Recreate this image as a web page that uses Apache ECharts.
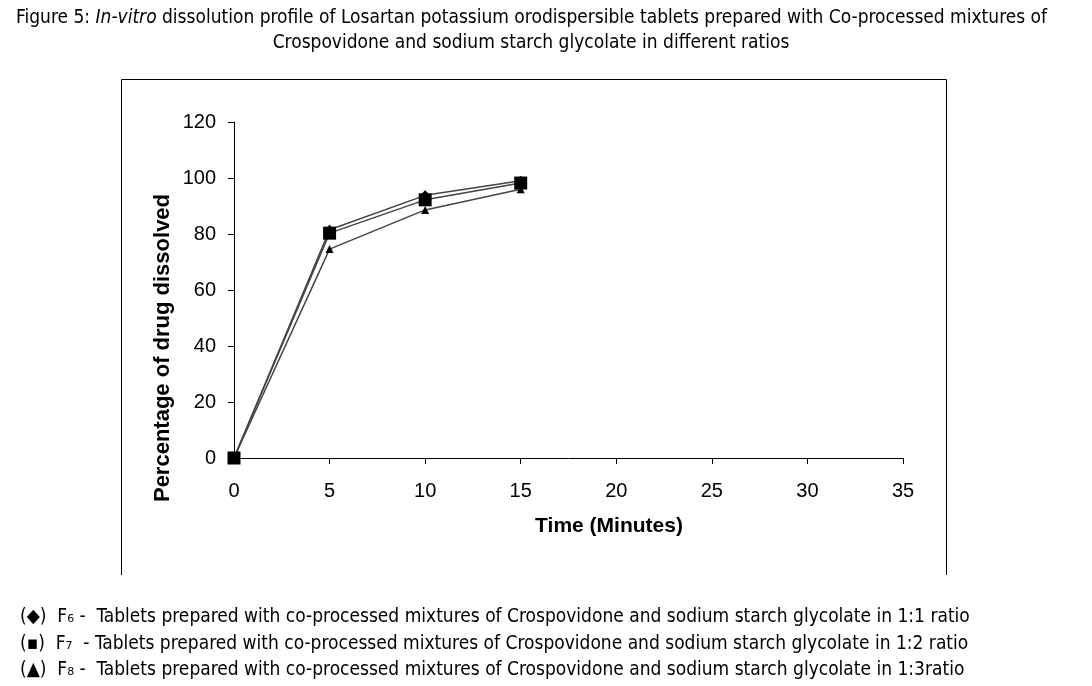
<!DOCTYPE html>
<html><head><meta charset="utf-8">
<script src="https://cdn.jsdelivr.net/npm/echarts@6/dist/echarts.min.js"></script>
<style>html,body{margin:0;padding:0;background:#fff}#c{width:1092px;height:686px}</style>
</head><body><div id="c"></div>
<script>
const times = [0, 5, 10, 15];
const f6 = [0, 81.5, 93.8, 99.0];
const f7 = [0, 80.3, 92.2, 98.2];
const f8 = [0, 74.6, 88.6, 96.0];
const xTicks = [0, 5, 10, 15, 20, 25, 30, 35];
const yTicks = [0, 20, 40, 60, 80, 100, 120];
const footnotes = [
  ['◆', '₆', ' -  Tablets prepared with co-processed mixtures of Crospovidone and sodium starch glycolate in 1:1 ratio'],
  ['▪', '₇', '  - Tablets prepared with co-processed mixtures of Crospovidone and sodium starch glycolate in 1:2 ratio'],
  ['▲', '₈', ' -  Tablets prepared with co-processed mixtures of Crospovidone and sodium starch glycolate in 1:3ratio']
];

const pair = a => a.map((v, i) => [times[i], v]);
const chart = echarts.init(document.getElementById('c'));
const txtFont = '"DejaVu Sans Condensed", "Noto Sans", sans-serif';
const axisFont = '"Liberation Sans", Arial, sans-serif';

const graphics = [
  { type: 'polyline', shape: { points: [[121.5, 575], [121.5, 79.5], [946.5, 79.5], [946.5, 575]] },
    style: { stroke: '#000', lineWidth: 1, fill: null } },
  { type: 'text', x: 16, y: 18, style: {
    text: '{n|Figure 5: }{i|In-vitro}{n| dissolution profile of Losartan potassium orodispersible tablets prepared with Co-processed mixtures of}',
    rich: { n: { font: '19px ' + txtFont, fill: '#000' }, i: { font: 'italic 19px ' + txtFont, fill: '#000' } },
    textVerticalAlign: 'middle' } },
  { type: 'text', x: 531, y: 43, style: { text: 'Crospovidone and sodium starch glycolate in different ratios', font: '19px ' + txtFont, fill: '#000', textAlign: 'center', textVerticalAlign: 'middle' } },
  { type: 'text', x: 609, y: 526, style: { text: 'Time (Minutes)', font: 'bold 21px ' + axisFont, fill: '#000', textAlign: 'center', textVerticalAlign: 'middle' } },
  { type: 'text', x: 163, y: 348, rotation: Math.PI / 2, style: { text: 'Percentage of drug dissolved', font: 'bold 22px ' + axisFont, fill: '#000', textAlign: 'center', textVerticalAlign: 'middle' } }
];

const ys = [617, 644, 670];
footnotes.forEach((f, i) => {
  graphics.push({ type: 'text', x: 20, y: ys[i], style: {
    text: '(' + f[0] + ')  F' + f[1] + f[2],
    font: '19px ' + txtFont, fill: '#000',
    textVerticalAlign: 'middle' } });
});

const lineCol = '#444';
chart.setOption({
  animation: false,
  backgroundColor: '#fff',
  grid: { left: 234, right: 189, top: 122, bottom: 228 },
  xAxis: {
    type: 'value', min: 0, max: 35, interval: 5,
    axisLine: { lineStyle: { color: '#000', width: 1 } },
    axisTick: { show: true, length: 6, lineStyle: { color: '#000' } },
    axisLabel: { color: '#000', fontSize: 20, fontFamily: axisFont, margin: 23,
      formatter: v => xTicks.includes(v) ? String(v) : '' },
    splitLine: { show: false }
  },
  yAxis: {
    type: 'value', min: 0, max: 120, interval: 20,
    axisLine: { show: true, lineStyle: { color: '#000', width: 1 } },
    axisTick: { show: true, length: 6, lineStyle: { color: '#000' } },
    axisLabel: { color: '#000', fontSize: 20, fontFamily: axisFont, margin: 18,
      formatter: v => yTicks.includes(v) ? String(v) : '' },
    splitLine: { show: false }
  },
  series: [
    { name: 'F6', type: 'line', data: pair(f6), symbol: 'diamond', symbolSize: 10,
      lineStyle: { color: lineCol, width: 1.5 }, itemStyle: { color: '#000' }, z: 2 },
    { name: 'F8', type: 'line', data: pair(f8), symbol: 'triangle', symbolSize: 8,
      lineStyle: { color: lineCol, width: 1.5 }, itemStyle: { color: '#000' }, z: 3 },
    { name: 'F7', type: 'line', data: pair(f7), symbol: 'rect', symbolSize: 13,
      lineStyle: { color: lineCol, width: 1.5 }, itemStyle: { color: '#000' }, z: 4 }
  ],
  graphic: graphics
});
</script></body></html>
